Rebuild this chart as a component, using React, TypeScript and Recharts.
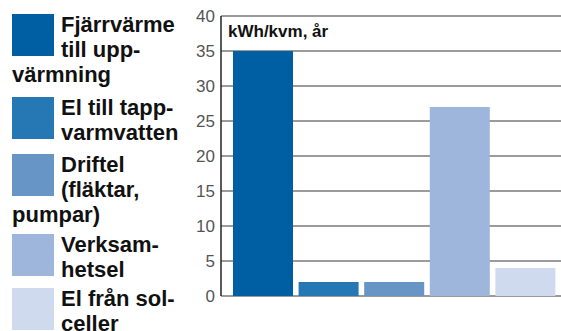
import React from "react";
import { BarChart, Bar, Cell, XAxis, YAxis, CartesianGrid } from "recharts";

const categories = [
  "Fjärrvärme till uppvärmning",
  "El till tappvarmvatten",
  "Driftel (fläktar, pumpar)",
  "Verksamhetsel",
  "El från solceller",
];
const legendLines = [
  ["Fjärrvärme", "till upp-", "värmning"],
  ["El till tapp-", "varmvatten"],
  ["Driftel", "(fläktar,", "pumpar)"],
  ["Verksam-", "hetsel"],
  ["El från sol-", "celler"],
];
const values = [35, 2, 2, 27, 4];
const colors = ["#005fa3", "#2678b5", "#6795c6", "#9eb6dc", "#cfdaee"];
const yTicks = [0, 5, 10, 15, 20, 25, 30, 35, 40];
const unitLabel = "kWh/kvm, år";

const data = categories.map((name, i) => ({ name, value: values[i] }));

const legendTops = [12, 95, 152, 232, 286];
const font = "'Liberation Sans', Arial, sans-serif";

const Legend = () => (
  <div style={{ position: "absolute", left: 12, top: 0, width: 175, fontFamily: font }}>
    {legendLines.map((lines, i) => (
      <div
        key={i}
        style={{
          position: "absolute",
          top: legendTops[i],
          left: 0,
          width: 175,
          fontWeight: 700,
          fontSize: 22,
          lineHeight: "25px",
          color: "#111",
        }}
      >
        <div
          style={{
            float: "left",
            width: 42,
            height: 42,
            marginTop: 2,
            marginRight: 7,
            background: colors[i],
          }}
        />
        {lines.map((l, j) => (
          <React.Fragment key={j}>
            {l}
            {j < lines.length - 1 && <br />}
          </React.Fragment>
        ))}
      </div>
    ))}
  </div>
);

export default function App() {
  return (
    <div style={{ position: "absolute", left: 0, top: 0, width: 561, height: 331, background: "#fff" }}>
      <BarChart
        width={561}
        height={331}
        data={data}
        margin={{ top: 16, right: 0, bottom: 35, left: 0 }}
      >
        <CartesianGrid vertical={false} stroke="#7a7a7a" strokeWidth={1.3} />
        <XAxis
          dataKey="name"
          tick={false}
          tickLine={false}
          height={0}
          padding={{ left: 9, right: 3 }}
          axisLine={{ stroke: "#222", strokeWidth: 1.5 }}
        />
        <YAxis
          width={221}
          domain={[0, 40]}
          ticks={yTicks}
          interval={0}
          tickLine={false}
          tickSize={0}
          tickMargin={6}
          axisLine={{ stroke: "#222", strokeWidth: 1.5 }}
          tick={{ fill: "#555", fontSize: 17, fontFamily: font }}
        />
        <Bar dataKey="value" barSize={60} isAnimationActive={false}>
          {data.map((d, i) => (
            <Cell key={d.name} fill={colors[i]} />
          ))}
        </Bar>
        <text x={228} y={37} fontFamily={font} fontWeight={700} fontSize={17} fill="#111">
          {unitLabel}
        </text>
      </BarChart>
      <Legend />
    </div>
  );
}
